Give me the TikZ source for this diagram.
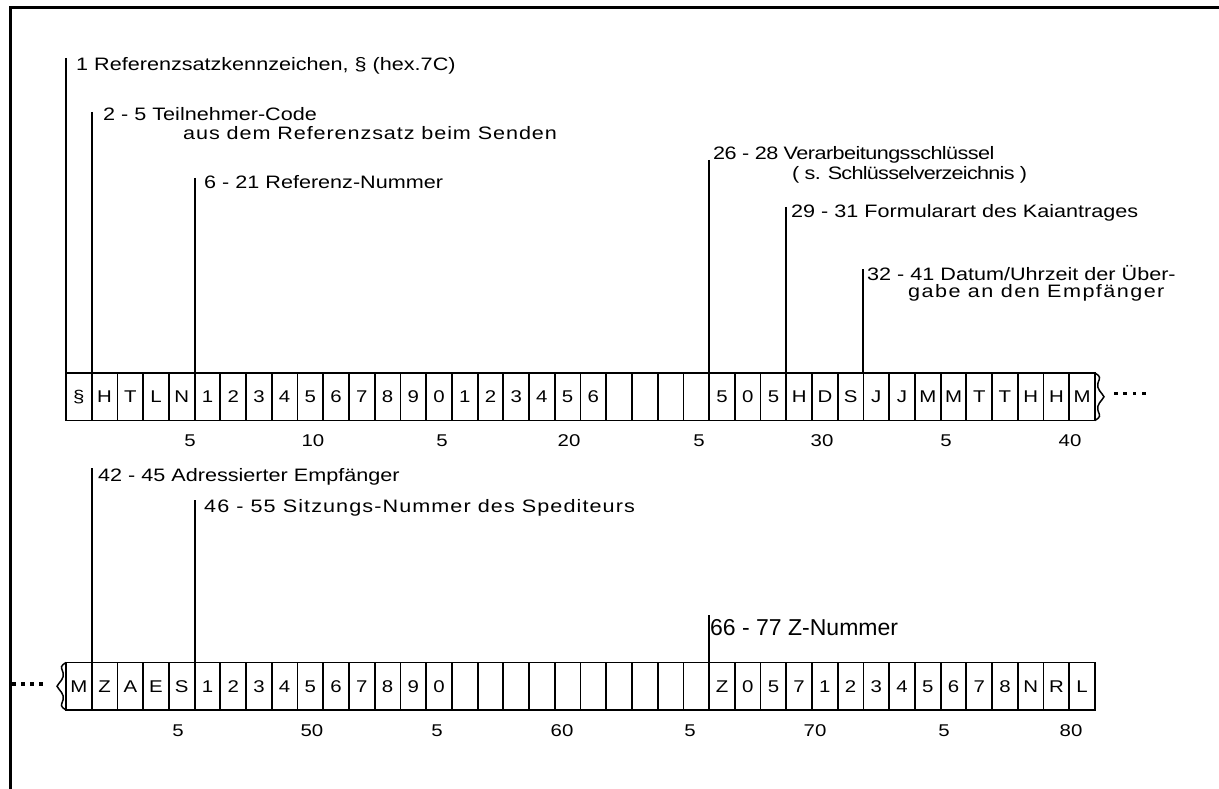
\documentclass[tikz,border=0pt]{standalone}
\usepackage{fontspec}
\setmainfont{Liberation Sans}
\newfontfamily\bmfont[FakeStretch=1.2]{Liberation Sans}
\begin{document}
\begin{tikzpicture}[x=1pt,y=-1pt,
  cellbox/.style={draw, line width=1.8pt, outer sep=0pt, inner sep=0pt,
    minimum width=25.725pt, minimum height=47.5pt, anchor=north west,
    font=\bmfont\fontsize{17}{17}\selectfont},
  lbl/.style={anchor=west, inner sep=0pt, font=\bmfont\fontsize{18}{18}\selectfont},
  spaced/.style={font=\bmfont\fontsize{18}{18}\selectfont\addfontfeature{LetterSpace=#1}},
  biglbl/.style={anchor=west, inner sep=0pt, font=\fontsize{23}{23}\selectfont},
  ticklbl/.style={inner sep=0pt, font=\bmfont\fontsize{17}{17}\selectfont},
  conn/.style={line width=2pt},
  frame/.style={line width=2.8pt},
  edge/.style={line width=1.5pt}]
\useasboundingbox (0,0) rectangle (1219,789);
% frame (top and left sides)
\coordinate (fa) at (10.3,789);
\coordinate (fb) at (10.3,7.5);
\coordinate (fc) at (1219,7.5);
\draw[frame] (fa) -- (fb) -- (fc);
% ---------- row 1 ----------
\foreach \t [count=\i] in {§,H,T,L,N,1,2,3,4,5,6,7,8,9,0,1,2,3,4,5,6,{},{},{},{},5,0,5,H,D,S,J,J,M,M,T,T,H,H,M}
  \node[cellbox] (c\i) at ({66+(\i-1)*25.725},373) {\t};
% ---------- row 2 ----------
\foreach \t [count=\i] in {M,Z,A,E,S,1,2,3,4,5,6,7,8,9,0,{},{},{},{},{},{},{},{},{},{},Z,0,5,7,1,2,3,4,5,6,7,8,N,R,L}
  \node[cellbox] (d\i) at ({66+(\i-1)*25.725},662.5) {\t};
% braces and continuation dots
\draw[edge] (c40.north east) .. controls +(6,4) and +(2,-6) .. ++(3,10)
  .. controls +(-2,6) and +(-2,-4) .. ++(6,13.75)
  .. controls +(-2,4) and +(-2,-6) .. ++(-6,13.75)
  .. controls +(2,6) and +(6,-4) .. (c40.south east);
\draw[edge] (d1.north west) .. controls +(-6,4) and +(-2,-6) .. ++(-3,10)
  .. controls +(2,6) and +(2,-4) .. ++(-6,13.75)
  .. controls +(2,4) and +(2,-6) .. ++(6,13.75)
  .. controls +(-2,6) and +(-6,-4) .. (d1.south west);
\foreach \k in {0,1,2,3} {
  \fill ({1114+\k*9.3},391.5) rectangle ++(3.8,3.8);
  \fill ({12+\k*8.9},682) rectangle ++(3.8,3.8);
}
% ---------- connectors and labels, row 1 ----------
\coordinate (t1) at (c1.north west |- 0,58);
\draw[conn] (t1) -- (c1.north west);
\node[lbl] (l1) at (76,66) {1 Referenzsatzkennzeichen, § (hex.7C)};
\coordinate (t2) at (c2.north west |- 0,112);
\draw[conn] (t2) -- (c2.north west);
\node[lbl] (l2) at (103,114) {2 - 5 Teilnehmer-Code};
\node[lbl,spaced=5] (l2b) at (183,133) {aus dem Referenzsatz beim Senden};
\coordinate (t6) at (c6.north west |- 0,178);
\draw[conn] (t6) -- (c6.north west);
\node[lbl] (l6) at (204,182) {6 - 21 Referenz-Nummer};
\coordinate (t26) at (c26.north west |- 0,160);
\draw[conn] (t26) -- (c26.north west);
\node[lbl,spaced=-3] (l26) at (713,155) {26 - 28 Verarbeitungsschlüssel};
\node[lbl,spaced=-4] (l26b) at (792,174.5) {( s. Schlüsselverzeichnis )};
\coordinate (t29) at (c29.north west |- 0,207);
\draw[conn] (t29) -- (c29.north west);
\node[lbl] (l29) at (791,213) {29 - 31 Formularart des Kaiantrages};
\coordinate (t32) at (c32.north west |- 0,269);
\draw[conn] (t32) -- (c32.north west);
\node[lbl] (l32) at (867,273) {32 - 41 Datum/Uhrzeit der Über-};
\node[lbl,spaced=8] (l32b) at (908,293) {gabe an den Empfänger};
% ---------- connectors and labels, row 2 ----------
\coordinate (t42) at (d2.north west |- 0,468);
\draw[conn] (t42) -- (d2.north west);
\node[lbl] (l42) at (98,477) {42 - 45 Adressierter Empfänger};
\coordinate (t46) at (d6.north west |- 0,500);
\draw[conn] (t46) -- (d6.north west);
\node[lbl,spaced=6] (l46) at (204,508) {46 - 55 Sitzungs-Nummer des Spediteurs};
\coordinate (t66) at (d26.north west |- 0,615);
\draw[conn] (t66) -- (d26.north west);
\node[biglbl] (l66) at (710,628) {66 - 77 Z-Nummer};
% ---------- position numbers ----------
\foreach \x/\t [count=\i] in {190/5,313/10,442/5,569/20,699/5,822/30,946/5,1070/40}
  \node[ticklbl] (n\i) at (\x,441) {\t};
\foreach \x/\t [count=\i] in {178/5,312/50,437/5,562/60,690/5,815/70,944/5,1071/80}
  \node[ticklbl] (m\i) at (\x,731) {\t};
\end{tikzpicture}
\end{document}
